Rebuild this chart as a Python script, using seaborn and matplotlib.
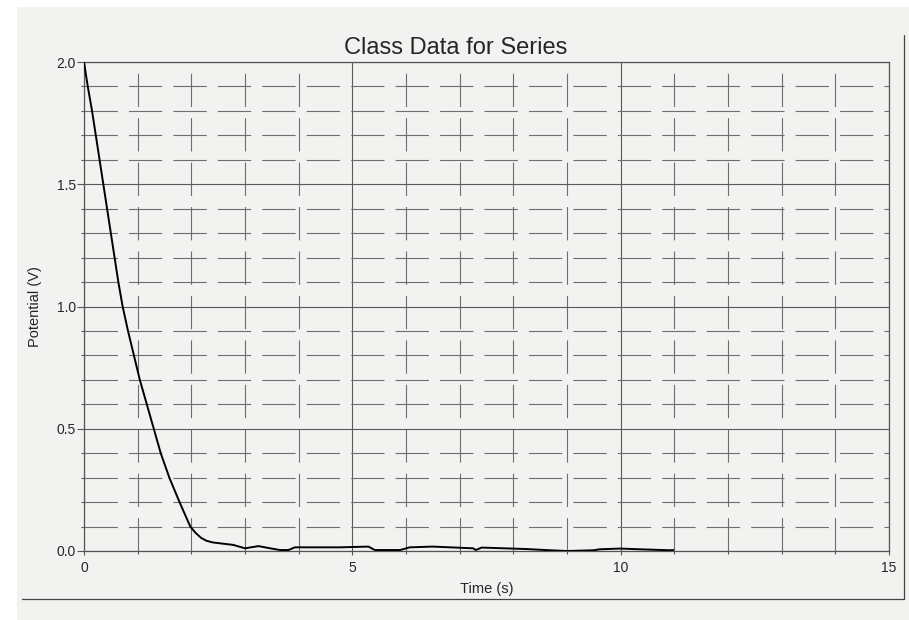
import matplotlib
matplotlib.use("Agg")
import matplotlib.pyplot as plt
import seaborn as sns
import numpy as np
from matplotlib.patches import Rectangle
from matplotlib.lines import Line2D
from matplotlib.ticker import MultipleLocator

# ---- data ----
time_s = [0.0, 0.07, 0.15, 0.22, 0.29, 0.36, 0.43, 0.50, 0.57, 0.64, 0.72,
          0.82, 0.93, 1.04, 1.17, 1.30, 1.43, 1.59, 1.78, 1.98, 2.08, 2.18,
          2.28, 2.40, 2.55, 2.78, 3.00, 3.25, 3.47, 3.65, 3.81, 3.93, 4.33, 4.77,
          5.30, 5.42, 5.89, 6.07, 6.50, 6.82, 7.25, 7.30, 7.41, 8.25, 8.68,
          9.00, 9.49, 9.61, 9.99, 10.36, 10.92, 10.98]
potential_v = [2.0, 1.9, 1.8, 1.7, 1.6, 1.5, 1.4, 1.3, 1.2, 1.1, 1.0,
               0.9, 0.8, 0.7, 0.6, 0.5, 0.4, 0.3, 0.2, 0.1, 0.074, 0.054,
               0.042, 0.035, 0.031, 0.025, 0.011, 0.02, 0.011, 0.004, 0.004, 0.015, 0.015, 0.015,
               0.018, 0.004, 0.004, 0.015, 0.018, 0.015, 0.011, 0.004, 0.014, 0.008, 0.003,
               0.0, 0.003, 0.007, 0.01, 0.007, 0.003, 0.004]
x_major_ticks = [0, 5, 10, 15]
y_major_ticks = [0.0, 0.5, 1.0, 1.5, 2.0]
y_tick_labels = ["0.0", "0.5", "1.0", "1.5", "2.0"]

title = "Class Data for Series"
xlabel = "Time (s)"
ylabel = "Potential (V)"

sns.set_style("white")
plt.rcParams['font.family'] = ['Liberation Sans', 'DejaVu Sans']

W, H = 909, 620
fig = plt.figure(figsize=(W / 100, H / 100), dpi=100)
paper = "#f2f2f0"
fig.patch.set_facecolor(paper)
# white scan margins
fig.patches.append(Rectangle((0, 1 - 7 / H), 1, 7 / H, transform=fig.transFigure,
                             facecolor="white", edgecolor="none", zorder=0))
fig.patches.append(Rectangle((0, 0), 17 / W, 1, transform=fig.transFigure,
                             facecolor="white", edgecolor="none", zorder=0))
# outer frame lines of the printout
fig.lines.append(Line2D([22 / W, 904 / W], [1 - 599 / H, 1 - 599 / H],
                        transform=fig.transFigure, color="#444444", lw=0.9))
fig.lines.append(Line2D([904 / W, 904 / W], [1 - 599 / H, 1 - 35 / H],
                        transform=fig.transFigure, color="#444444", lw=0.9))

left, right, top, bottom = 84, 889, 62, 551
ax = fig.add_axes([left / W, 1 - bottom / H, (right - left) / W, (bottom - top) / H])
ax.set_facecolor("none")

sns.lineplot(x=time_s, y=potential_v, color="black", lw=1.4, ax=ax, zorder=5)

ax.set_xlim(0, 15)
ax.set_ylim(0, 2.0)
ax.set_xticks(x_major_ticks)
ax.set_xticklabels([str(v) for v in x_major_ticks])
ax.set_yticks(y_major_ticks)
ax.set_yticklabels(y_tick_labels)
ax.xaxis.set_minor_locator(MultipleLocator(1))
ax.yaxis.set_minor_locator(MultipleLocator(0.1))

ax.grid(which="major", color="#5a5a5a", lw=0.8, ls="-")
ax.grid(which="minor", color="#6e6e6e", lw=0.8, ls=(0, (30, 10)))
ax.set_axisbelow(True)

for s in ax.spines.values():
    s.set_visible(True)
    s.set_color("#555555")
    s.set_linewidth(0.9)

ax.tick_params(axis="y", which="major", length=5, width=0.8, color="#555555",
               labelsize=10, pad=1, direction="out", left=True)
ax.tick_params(axis="x", which="major", length=3, width=0.8, color="#555555",
               labelsize=10, pad=4, direction="out", bottom=True)
ax.tick_params(which="minor", length=2, width=0.8, color="#555555", direction="out",
               left=True, bottom=True)

ax.set_xlabel(xlabel, fontsize=10.5, labelpad=5)
ax.set_ylabel(ylabel, fontsize=10.5, labelpad=10)

fig.text(456 / W, 1 - 48 / H, title, ha="center", va="center", fontsize=17)

fig.savefig("out.png", dpi=100, facecolor=fig.get_facecolor())
